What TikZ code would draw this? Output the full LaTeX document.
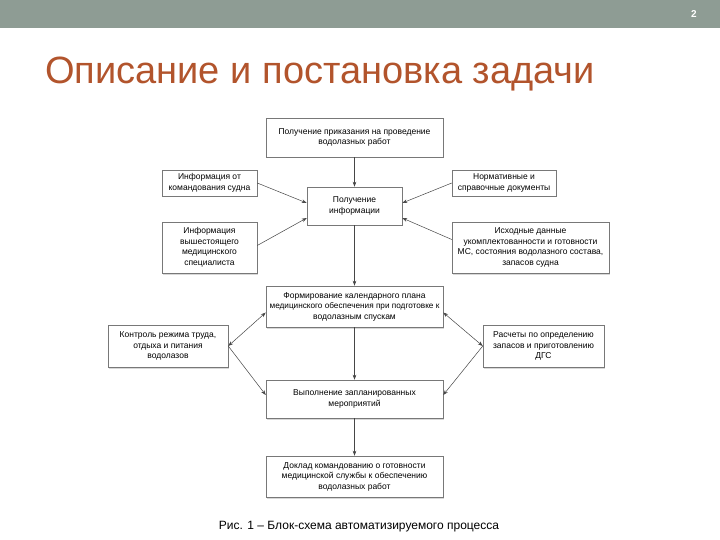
\documentclass[tikz,border=0pt]{standalone}
\usepackage{fontspec}
\setmainfont{Liberation Sans}
\usetikzlibrary{shadows,arrows.meta}
\definecolor{topbar}{RGB}{142,156,148}
\definecolor{titlecol}{RGB}{178,84,44}
\definecolor{boxline}{RGB}{120,120,120}
\definecolor{linecol}{RGB}{70,70,70}
\tikzset{
  box/.style={draw=boxline, line width=0.5pt, fill=white, align=center,
    font=\fontsize{8.5}{10.5}\selectfont, inner sep=1pt,
    drop shadow={shadow xshift=1.2pt, shadow yshift=-1.5pt, fill=gray!60, opacity=0.5}},
  conn/.style={draw=linecol, line width=0.5pt, -{Stealth[length=5pt,width=3.6pt]}},
  conn2/.style={draw=linecol, line width=0.5pt, {Stealth[length=5pt,width=3.6pt]}-{Stealth[length=5pt,width=3.6pt]}}
}
\begin{document}
\begin{tikzpicture}[x=1pt,y=-1pt]
\useasboundingbox (0,0) rectangle (720,540);
\fill[white] (0,0) rectangle (720,540);
\fill[topbar] (0,0) rectangle (720,28);
\node[text=white, font=\bfseries\fontsize{10}{12}\selectfont] (pg) at (694,14) {2};
\node[anchor=base west, text=titlecol, font=\fontsize{38}{42}\selectfont, inner sep=0pt] (title) at (45,84) {Описание и постановка задачи};

\node[box, minimum width=177pt, minimum height=39pt] (b1) at (354.5,137.5) {Получение приказания на проведение\\водолазных работ};
\node[box, minimum width=95pt, minimum height=26pt] (b2) at (209.5,183) {Информация от\\командования судна};
\node[box, minimum width=95pt, minimum height=38pt] (b3) at (354.5,206) {Получение\\информации};
\node[box, minimum width=104pt, minimum height=26pt] (b4) at (504,183) {Нормативные и\\справочные документы};
\node[box, minimum width=95pt, minimum height=51pt] (b5) at (209.5,247.5) {Информация\\вышестоящего\\медицинского\\специалиста};
\node[box, minimum width=157pt, minimum height=51pt] (b6) at (530.5,247.5) {Исходные данные\\укомплектованности и готовности\\МС, состояния водолазного состава,\\запасов судна};
\node[box, minimum width=177pt, minimum height=41pt] (b7) at (354.5,306.5) {Формирование календарного плана\\{\fontsize{8.2}{10.5}\selectfont медицинского обеспечения при подготовке к}\\водолазным спускам};
\node[box, minimum width=120pt, minimum height=42pt] (b8) at (168,346) {Контроль режима труда,\\отдыха и питания\\водолазов};
\node[box, minimum width=121pt, minimum height=42pt] (b9) at (543.5,346) {Расчеты по определению\\запасов и приготовлению\\ДГС};
\node[box, minimum width=177pt, minimum height=38pt] (b10) at (354.5,399) {Выполнение запланированных\\мероприятий};
\node[box, minimum width=177pt, minimum height=41pt] (b11) at (354.5,476.5) {Доклад командованию о готовности\\медицинской службы к обеспечению\\водолазных работ};

\node[font=\fontsize{12}{14}\selectfont] (cap) at (359,527) {Рис. 1 – Блок-схема автоматизируемого процесса};

\draw[conn] (b1.south) -- (b3.north);
\draw[conn] (b2.east) -- ([yshift=3pt]b3.west);
\draw[conn] ([yshift=2pt]b5.east) -- ([yshift=-12pt]b3.west);
\draw[conn] (b4.west) -- ([yshift=3pt]b3.east);
\draw[conn] ([yshift=8pt]b6.west) -- ([yshift=-12pt]b3.east);
\draw[conn] (b3.south) -- (b7.north);
\draw[conn2] (b8.east) -- ([yshift=-6pt]b7.west);
\draw[conn] (b8.east) -- ([yshift=4pt]b10.west);
\draw[conn2] (b9.west) -- ([yshift=-6pt]b7.east);
\draw[conn] (b9.west) -- ([yshift=4pt]b10.east);
\draw[conn] (b7.south) -- (b10.north);
\draw[conn] (b10.south) -- (b11.north);
\end{tikzpicture}
\end{document}
